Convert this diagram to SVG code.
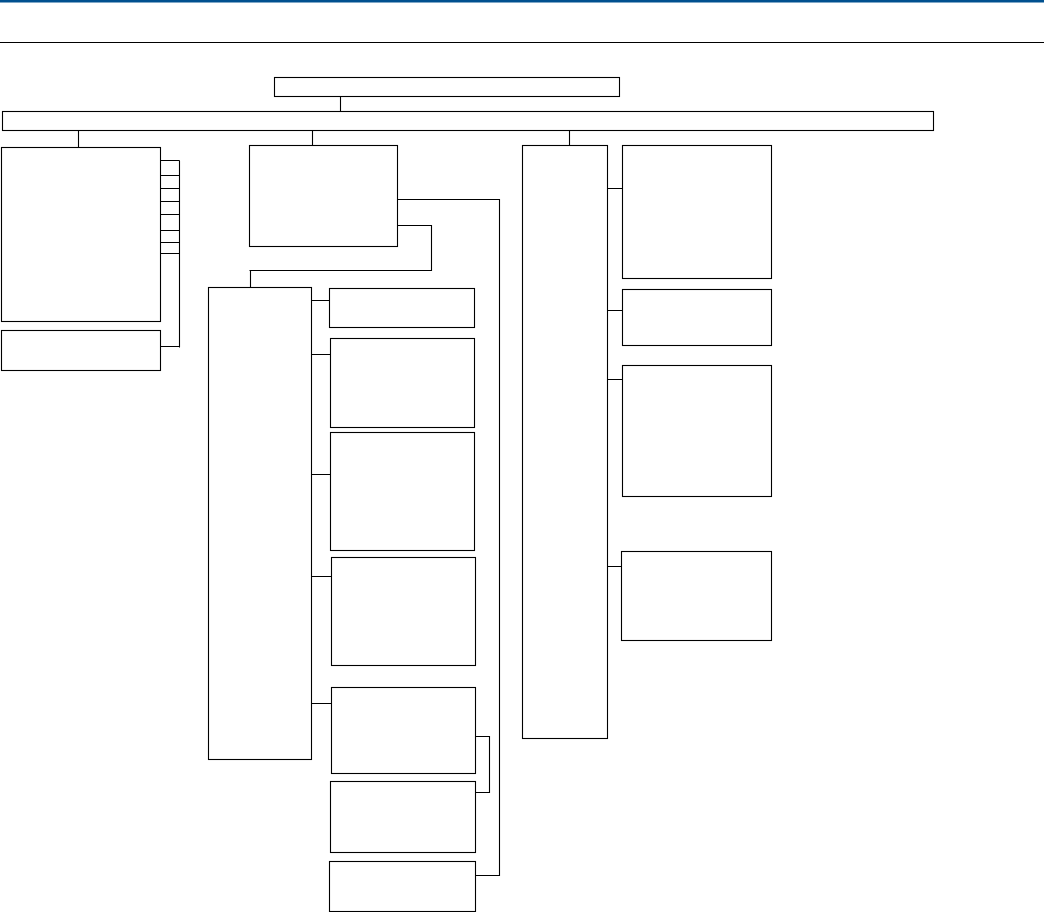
<svg xmlns="http://www.w3.org/2000/svg" width="1044" height="912" viewBox="0 0 1044 912">
<style>
.n{fill:#fff;stroke:#000;stroke-width:1.1}
.c{fill:none;stroke:#000;stroke-width:1.1}
</style>
<rect x="0" y="0" width="1044" height="912" fill="#fff"/>
<rect x="0" y="0" width="1044" height="2.5" fill="#00508f"/>
<line x1="0" y1="42.5" x2="1044" y2="42.5" stroke="#000" stroke-width="1.2"/>
<g id="connectors">
<path class="c" d="M340.5 96.5V111.5"/>
<path class="c" d="M78.5 130.5V147.5"/>
<path class="c" d="M312.5 130.5V145.5"/>
<path class="c" d="M569.5 130.5V145.5"/>
<path class="c" d="M179.5 160.5V347.5M160.5 160.5H179.5M160.5 175.5H179.5M160.5 188.5H179.5M160.5 201.5H179.5M160.5 214.5H179.5M160.5 230.5H179.5M160.5 242.5H179.5M160.5 253.5H179.5M160.5 346.5H179.5"/>
<path class="c" d="M397.5 199.5H499.5V875.5H475.5"/>
<path class="c" d="M397.5 225.5H431.5V270.5H249.5M250.5 270V287.5"/>
<path class="c" d="M311.5 300.5H329.5M311.5 354.5H330.5M311.5 474.5H330.5M311.5 576.5H331.5M311.5 703.5H331.5"/>
<path class="c" d="M475.5 736.5H489.5V792.5H475.5"/>
<path class="c" d="M607.5 188.5H622.5M607.5 310.5H622.5M607.5 379.5H622.5M607.5 566.5H621.5"/>
</g>
<g id="n-top"><rect class="n" x="274.5" y="77.5" width="345" height="19"/></g>
<g id="n-bar"><rect class="n" x="2.5" y="111.5" width="931" height="19"/></g>
<g id="n-left1"><rect class="n" x="1.5" y="147.5" width="159" height="174"/></g>
<g id="n-left2"><rect class="n" x="1.5" y="330.5" width="159" height="40"/></g>
<g id="n-mid"><rect class="n" x="249.5" y="145.5" width="148" height="101"/></g>
<g id="n-midtall"><rect class="n" x="208.5" y="287.5" width="103" height="472"/></g>
<g id="n-a"><rect class="n" x="329.5" y="288.5" width="145" height="39"/></g>
<g id="n-b"><rect class="n" x="330.5" y="338.5" width="144" height="89"/></g>
<g id="n-c"><rect class="n" x="330.5" y="432.5" width="144" height="118"/></g>
<g id="n-d"><rect class="n" x="331.5" y="557.5" width="144" height="108"/></g>
<g id="n-e"><rect class="n" x="331.5" y="687.5" width="144" height="86"/></g>
<g id="n-f"><rect class="n" x="330.5" y="781.5" width="145" height="71"/></g>
<g id="n-g"><rect class="n" x="329.5" y="861.5" width="146" height="50"/></g>
<g id="n-right"><rect class="n" x="522.5" y="145.5" width="85" height="593"/></g>
<g id="n-r1"><rect class="n" x="622.5" y="145.5" width="149" height="133"/></g>
<g id="n-r2"><rect class="n" x="622.5" y="289.5" width="149" height="56"/></g>
<g id="n-r3"><rect class="n" x="622.5" y="365.5" width="149" height="131"/></g>
<g id="n-r4"><rect class="n" x="621.5" y="551.5" width="150" height="89"/></g>
</svg>
